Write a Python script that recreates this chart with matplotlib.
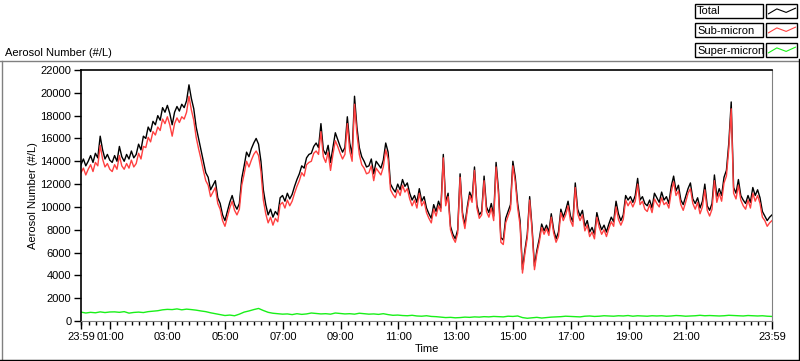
import numpy as np
import matplotlib.pyplot as plt
from matplotlib.lines import Line2D
from matplotlib.patches import Rectangle

plt.rcParams['font.family'] = ['Liberation Sans', 'DejaVu Sans']
plt.rcParams['font.size'] = 8

# minutes after 23:59; total / sub-micron read every 5 min, super-micron every 10 min
minutes = np.arange(0, 1441, 5)
minutes_super = np.arange(0, 1441, 10)

total = [13700, 14200, 13600, 14000, 14500, 13900, 14700, 14300, 16200, 15000, 14200, 14600,
         14100, 13900, 14500, 14000, 15300, 14400, 14000, 14600, 14200, 14900, 14300, 14600,
         15500, 15000, 16200, 16000, 17000, 16600, 17500, 17200, 18000, 17600, 18700, 18300,
         18900, 18200, 17200, 18300, 18800, 18400, 19000, 18700, 19300, 20700, 19500, 18600,
         17000, 16000, 15000, 14000, 13000, 12600, 11500, 11900, 12300, 10800, 10300, 9300,
         8800, 9600, 10400, 11000, 10200, 9800, 10300, 12500, 13600, 14800, 14400, 15100,
         15600, 16000, 15500, 14000, 11500, 10200, 9300, 9800, 9100, 9600, 9300, 10800,
         11000, 10500, 11200, 10700, 11100, 11800, 12400, 12900, 13600, 13400, 14300, 14600,
         14700, 15300, 15600, 15200, 17300, 15000, 14600, 15400, 13900, 15200, 16500, 15900,
         15300, 14800, 15200, 17900, 15600, 14600, 19700, 17000, 15200, 14400, 14000, 13500,
         13600, 14200, 12900, 14000, 13700, 13400, 14100, 15600, 14800, 12000, 11600, 11300,
         12000, 11500, 12400, 11800, 12100, 11200, 10600, 11000, 10400, 11600, 10500, 10900,
         9900, 9400, 9000, 10200, 9600, 10500, 9900, 14600, 10400, 11200, 8300, 7600,
         7200, 8000, 12900, 9500, 8400, 10000, 11300, 10700, 13500, 10200, 9300, 9600,
         12700, 10000, 9500, 10300, 9200, 13900, 11500, 7300, 7100, 9000, 9600, 10200,
         14000, 12600, 10300, 8800, 4500, 6200, 7600, 10900, 8200, 4800, 6200, 7200,
         8500, 7900, 8400, 7800, 9400, 8000, 7200, 7800, 9800, 9100, 9700, 10500,
         9200, 8700, 12100, 9800, 9200, 9700, 8300, 8800, 7800, 8200, 7600, 9500,
         8600, 8000, 8400, 7800, 8500, 9100, 8700, 10500, 9400, 8800, 9300, 11000,
         10600, 10900, 10400, 11000, 12500, 10600, 10900, 10300, 10100, 10600, 9900, 11200,
         10800, 10400, 11300, 10600, 10900, 10300, 11800, 12700, 11400, 11900, 10600, 10200,
         10900, 11600, 12100, 10700, 10300, 10800, 9900, 10500, 12000, 10100, 9700, 10300,
         12800, 10900, 11600, 11000, 12600, 13200, 15600, 19200, 11700, 11200, 12400, 11000,
         10600, 10300, 11000, 10400, 11700, 11000, 11500, 10800, 9600, 9200, 8800, 9100,
         9300]

sub_micron = [13000, 13400, 12800, 13300, 13700, 13100, 13900, 13600, 15400, 14200, 13500, 13800,
              13300, 13100, 13700, 13300, 14500, 13600, 13300, 13800, 13400, 14100, 13500, 13800,
              14700, 14200, 15300, 15200, 16100, 15700, 16600, 16300, 17000, 16700, 17700, 17300,
              17900, 17200, 16200, 17300, 17800, 17400, 17900, 17700, 18300, 19700, 18500, 17600,
              16100, 15100, 14200, 13200, 12300, 11900, 10900, 11300, 11700, 10300, 9800, 8800,
              8300, 9100, 9900, 10500, 9700, 9300, 9800, 11900, 12900, 14000, 13500, 14100,
              14600, 14900, 14500, 13100, 10600, 9400, 8600, 9100, 8400, 9000, 8700, 10200,
              10400, 9900, 10600, 10100, 10500, 11200, 11800, 12300, 13000, 12700, 13700, 13900,
              14000, 14700, 14900, 14600, 16600, 14400, 13900, 14800, 13200, 14600, 15800, 15300,
              14700, 14200, 14600, 17300, 14900, 14000, 19000, 16400, 14600, 13700, 13400, 12900,
              13000, 13600, 12300, 13400, 13100, 12800, 13500, 15000, 14200, 11500, 11100, 10800,
              11500, 11000, 11900, 11300, 11600, 10700, 10100, 10600, 9900, 11200, 10100, 10500,
              9500, 9000, 8600, 9800, 9200, 10100, 9600, 14300, 10100, 10900, 8000, 7300,
              6900, 7700, 12600, 9200, 8100, 9700, 11000, 10400, 13200, 9900, 9000, 9300,
              12300, 9600, 9100, 9900, 8800, 13500, 11100, 6900, 6700, 8600, 9200, 9800,
              13600, 12200, 9900, 8400, 4200, 5900, 7300, 10600, 7900, 4500, 5900, 6900,
              8200, 7600, 8100, 7500, 9100, 7700, 6900, 7400, 9500, 8800, 9300, 10100,
              8800, 8300, 11700, 9400, 8800, 9300, 7900, 8400, 7400, 7800, 7200, 9100,
              8200, 7600, 8000, 7400, 8100, 8700, 8300, 10000, 8900, 8400, 8900, 10600,
              10100, 10500, 10000, 10500, 12000, 10200, 10500, 9800, 9600, 10200, 9500, 10700,
              10300, 10000, 10800, 10200, 10400, 9900, 11300, 12200, 11000, 11400, 10200, 9700,
              10400, 11200, 11600, 10300, 9800, 10400, 9400, 10000, 11500, 9700, 9200, 9800,
              12300, 10400, 11200, 10500, 12100, 12700, 15100, 18600, 11200, 10700, 11900, 10600,
              10100, 9800, 10600, 9900, 11200, 10500, 11000, 10300, 9100, 8800, 8300, 8600,
              8800]

super_micron = [780, 700, 760, 720, 800, 740, 790,
                800, 760, 820, 690, 750, 780, 740, 820, 860,
                900, 980, 1020, 1000, 1060, 980, 1040, 1000, 950,
                880, 820, 720, 640, 560, 480, 520, 460,
                600, 780, 880, 1000, 1100, 920, 760, 680,
                640, 600, 620, 560, 640, 580, 620, 700, 660, 620,
                640, 600, 700, 660, 620, 640, 600, 680, 640, 600,
                620, 580, 640, 560, 500, 520, 480, 460, 500, 440,
                420, 460, 400, 380, 340, 300, 320, 280, 300, 340,
                320, 360, 340, 380, 360, 400, 380, 360, 420, 400,
                440, 300, 240, 280, 320, 260, 300, 340, 360, 380,
                420, 400, 380, 360, 420, 440, 400, 420, 460, 440,
                420, 460, 440, 480, 420, 460, 440, 420, 460, 440,
                460, 420, 440, 480, 460, 420, 440, 460, 500, 460,
                480, 460, 440, 460, 500, 480, 460, 440, 480, 460,
                440, 460, 420, 400]

names = ['Total', 'Sub-micron', 'Super-micron']
colors = ['#000000', '#FF4040', '#19F019']

tick_pos = [0, 61, 181, 301, 421, 541, 661, 781, 901, 1021, 1141, 1261, 1440]
tick_labels = ['23:59', '01:00', '03:00', '05:00', '07:00', '09:00', '11:00',
               '13:00', '15:00', '17:00', '19:00', '21:00', '23:59']
minor_pos = np.arange(1, 1441, 15)

W, H = 800, 361
fig = plt.figure(figsize=(W / 100, H / 100), dpi=100)
fig.patch.set_facecolor('white')


def px(x, y):
    return x / W, 1 - y / H


ax = fig.add_axes([81 / W, 1 - 321 / H, (772 - 81) / W, (321 - 70) / H])
ax.plot(minutes, total, color=colors[0], lw=1.0)
ax.plot(minutes, sub_micron, color=colors[1], lw=1.0)
ax.plot(minutes_super, super_micron, color=colors[2], lw=1.0)

ax.set_xlim(0, 1440)
ax.set_ylim(0, 22000)
ax.set_yticks(np.arange(0, 22001, 2000))
ax.set_xticks(tick_pos)
ax.set_xticklabels(tick_labels)
ax.set_xticks(minor_pos, minor=True)
ax.tick_params(axis='both', which='major', length=5, width=1, direction='out',
               labelsize=8, pad=2)
ax.tick_params(axis='x', which='minor', length=3, width=1)
ax.tick_params(axis='x', which='major', length=6)
ax.spines['left'].set_color('black')
ax.spines['top'].set_color('black')
ax.spines['left'].set_linewidth(1.2)
ax.spines['top'].set_linewidth(1.2)
ax.spines['right'].set_color('#808080')
ax.spines['bottom'].set_color('#808080')
ax.set_ylabel('Aerosol Number (#/L)', fontsize=8, labelpad=2)
ax.set_xlabel('Time', fontsize=8, labelpad=1)

fig.text(5 / W, 1 - 53 / H, 'Aerosol Number (#/L)', fontsize=8, va='center', ha='left')

# outer panel frame
fig.add_artist(Line2D([0, 798 / W], [1 - 61 / H] * 2, color='#808080', lw=1))
fig.add_artist(Line2D([1.5 / W] * 2, [1 - 61 / H, 1 - 359 / H], color='#808080', lw=1))
fig.add_artist(Line2D([0, 1], [1 - 359.5 / H] * 2, color='black', lw=1))
fig.add_artist(Line2D([798.5 / W] * 2, [1 - 59 / H, 0], color='black', lw=1))

# legend
rows_top = [4, 23, 43]
icon = [(0.08, 0.3), (0.35, 0.65), (0.65, 0.4), (0.95, 0.7)]
for name, c, top in zip(names, colors, rows_top):
    x0, y0 = px(695, top + 14)
    fig.add_artist(Rectangle((x0, y0), 68 / W, 14 / H, transform=fig.transFigure,
                             facecolor='white', edgecolor='black', lw=1))
    fig.text(697 / W, 1 - (top + 7.5) / H, name, fontsize=8, va='center', ha='left')
    sx, sy = px(766, top + 14)
    fig.add_artist(Rectangle((sx, sy), 31 / W, 14 / H, transform=fig.transFigure,
                             facecolor='white', edgecolor='black', lw=1))
    fig.add_artist(Line2D([sx + fx * 31 / W for fx, fy in icon],
                          [sy + fy * 14 / H for fx, fy in icon],
                          color=c, lw=0.8, transform=fig.transFigure))

fig.savefig('out.png', dpi=100)
